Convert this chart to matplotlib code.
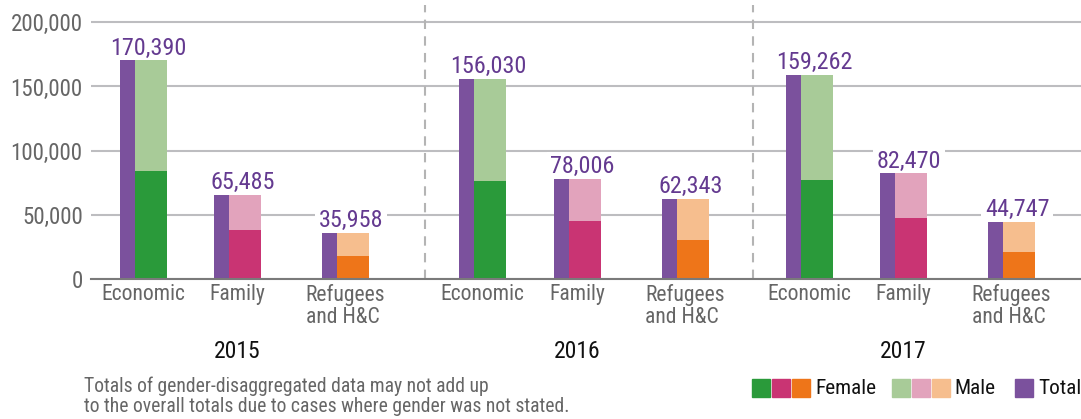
import matplotlib
matplotlib.use('Agg')
import matplotlib.pyplot as plt
from matplotlib.patches import Rectangle

plt.rcParams['font.family'] = ['Roboto Condensed', 'Liberation Sans', 'DejaVu Sans']

# data
years = ['2015', '2016', '2017']
categories = ['Economic', 'Family', 'Refugees\nand H&C']
totals = [[170390, 65485, 35958],
          [156030, 78006, 62343],
          [159262, 82470, 44747]]
female = [[84100, 38200, 17900],
          [76400, 45200, 30400],
          [77100, 47500, 21000]]
male = [[86300, 27300, 18000],
        [79600, 32800, 31900],
        [82100, 35000, 23700]]

# colours
total_color = '#7b519d'
label_color = '#643a90'
female_colors = ['#2a9a3a', '#c93473', '#ee7519']
male_colors = ['#a8cb98', '#e2a3bc', '#f6be8e']
grey_text = '#666666'

W, H = 1081, 419
fig = plt.figure(figsize=(W / 100, H / 100), dpi=100)
ax = fig.add_axes([91 / W, (H - 279) / H, 990 / W, 274 / H])

# layout (pixel-like x units)
group_start = [119.5, 459, 785.5]
cat_offset = [0, 94.5, 202.5]
w_tot, w_gen = 15, 32

for g in range(len(years)):
    for c in range(len(categories)):
        x0 = group_start[g] + cat_offset[c]
        ax.bar(x0, totals[g][c], width=w_tot, align='edge', color=total_color, zorder=3)
        ax.bar(x0 + w_tot, female[g][c], width=w_gen, align='edge',
               color=female_colors[c], zorder=3)
        ax.bar(x0 + w_tot, male[g][c], bottom=female[g][c], width=w_gen,
               align='edge', color=male_colors[c], zorder=3)
        ax.annotate(f'{totals[g][c]:,}', xy=(x0 + 29, totals[g][c]), xytext=(0, 4),
                    textcoords='offset points', ha='center', va='baseline',
                    fontsize=17.4, color=label_color, zorder=2.5,
                    bbox=dict(boxstyle='square,pad=0.15', fc='white', ec='none'))
        ax.text(x0 + 23.5, -0.02, categories[c], transform=ax.get_xaxis_transform(),
                ha='center', va='top', multialignment='left', fontsize=15.6,
                color=grey_text, linespacing=1.05)
    ax.text(group_start[g] + cat_offset[1] + 23.5, -0.222, years[g],
            transform=ax.get_xaxis_transform(), ha='center', va='top',
            fontsize=17, color='#111111')

for xs in [425, 753]:
    ax.axvline(xs, color='#b4b4b4', lw=1.5, ls=(0, (4.5, 3.5)), zorder=1)

ax.set_xlim(91, 1081)
ax.set_ylim(0, 213500)
ax.set_yticks([0, 50000, 100000, 150000, 200000])
ax.set_yticklabels(['0', '50,000', '100,000', '150,000', '200,000'])
ax.set_xticks([])
ax.tick_params(axis='y', length=0, pad=6, labelsize=16.6, labelcolor=grey_text)
ax.yaxis.grid(True, color='#bdbdc0', lw=1.5, zorder=0)
ax.set_axisbelow(True)
for s in ['top', 'right', 'left']:
    ax.spines[s].set_visible(False)
ax.spines['bottom'].set_color('#7a7a7a')
ax.spines['bottom'].set_linewidth(1.5)
ax.spines['bottom'].set_zorder(4)

# note
fig.text(84 / W, 1 - 376 / H,
         'Totals of gender-disaggregated data may not add up\n'
         'to the overall totals due to cases where gender was not stated.',
         ha='left', va='top', fontsize=14.1, color=grey_text, linespacing=1.1)

# legend drawn by hand
def square(x, color):
    fig.add_artist(Rectangle((x / W, 1 - 397 / H), 18 / W, 18 / H,
                             transform=fig.transFigure, color=color))

for i, col in enumerate(female_colors):
    square(752 + 20 * i, col)
fig.text(815 / W, 1 - 388 / H, 'Female', ha='left', va='center', fontsize=15.3, color='#111111')
for i, col in enumerate(male_colors):
    square(892 + 20 * i, col)
fig.text(954 / W, 1 - 388 / H, 'Male', ha='left', va='center', fontsize=15.3, color='#111111')
square(1015, total_color)
fig.text(1038 / W, 1 - 388 / H, 'Total', ha='left', va='center', fontsize=15.3, color='#111111')

fig.savefig('out.png', dpi=100)
